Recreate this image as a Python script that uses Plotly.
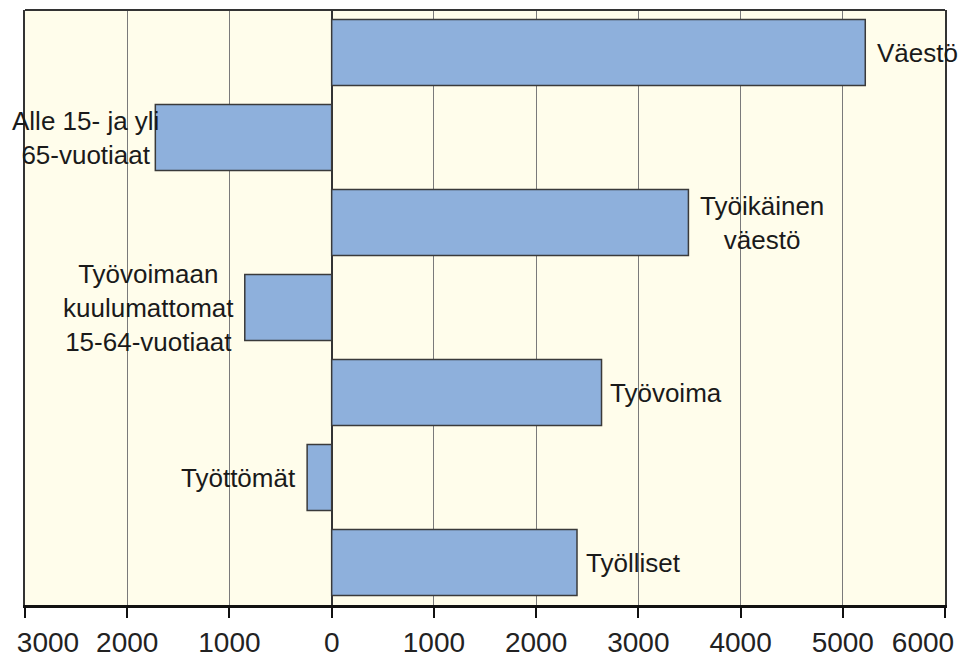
import plotly.graph_objects as go

# ---- data ----
categories = ["Väestö", "Alle 15- ja yli<br>65-vuotiaat", "Työikäinen<br>väestö",
              "Työvoimaan<br>kuulumattomat<br>15-64-vuotiaat", "Työvoima",
              "Työttömät", "Työlliset"]
values = [5220, -1725, 3490, -850, 2640, -240, 2400]
tick_vals = [-3000, -2000, -1000, 0, 1000, 2000, 3000, 4000, 5000, 6000]
tick_labels = ["3000", "2000", "1000", "0", "1000", "2000", "3000", "4000", "5000", "6000"]

FONT = "Liberation Sans, Arial, sans-serif"
X_RANGE = [tick_vals[0], tick_vals[-1]]
TICKFONT = dict(family=FONT, size=28, color="#222222")

fig = go.Figure()
fig.add_trace(go.Bar(
    x=values, y=categories, orientation="h",
    marker=dict(color="#8EB0DC", line=dict(color="#3a3a3a", width=1.5)),
    width=0.776, hoverinfo="skip",
))
# empty helper traces so the overlay label axes are drawn
for ax in ("x2", "x3"):
    fig.add_trace(go.Scatter(x=[], y=[], xaxis=ax, yaxis="y", mode="markers",
                             showlegend=False, hoverinfo="skip"))

label_shift = [10, 6, 10, -9, 6, -9, 7]
for cat, v, s in zip(categories, values, label_shift):
    fig.add_annotation(
        x=v, y=cat, text=cat, showarrow=False,
        xanchor="left" if v > 0 else "right", yanchor="middle",
        xshift=s, align="center",
        font=dict(family=FONT, size=26, color="#1a1a1a"),
    )

# top frame line
fig.add_shape(type="line", xref="paper", yref="paper", x0=0, x1=1, y0=1, y1=1,
              line=dict(color="#333333", width=2))

# main axis: inner labels; edge labels on overlay axes nudged inward
inner_text = [""] + tick_labels[1:-1] + [""]

edge_axis = dict(
    overlaying="x", side="bottom", anchor="y", range=X_RANGE,
    ticks="outside", ticklen=10, tickwidth=0, tickcolor="rgba(0,0,0,0)",
    showgrid=False, zeroline=False, showline=False,
    tickfont=TICKFONT, ticklabeloverflow="allow", ticklabelstandoff=2,
    automargin=False, fixedrange=True,
)

fig.update_layout(
    width=964, height=660,
    margin=dict(l=25, r=19, t=10, b=55),
    paper_bgcolor="white", plot_bgcolor="#FFFDEB",
    showlegend=False,
    xaxis=dict(
        range=X_RANGE, tickvals=tick_vals, ticktext=inner_text,
        showgrid=True, gridcolor="#7a7a7a", gridwidth=1,
        zeroline=True, zerolinecolor="#333333", zerolinewidth=1.5,
        showline=True, linecolor="#111111", linewidth=3,
        ticks="outside", ticklen=10, tickwidth=2, tickcolor="#111111",
        tickfont=TICKFONT,
        automargin=False, fixedrange=True,
    ),
    xaxis2=dict(edge_axis, tickvals=[tick_vals[0]], ticktext=[tick_labels[0]],
                ticklabelshift=23),
    xaxis3=dict(edge_axis, tickvals=[tick_vals[-1]], ticktext=[tick_labels[-1]],
                ticklabelshift=-22),
    yaxis=dict(
        autorange="reversed", showticklabels=False, showgrid=False,
        showline=True, linecolor="#333333", linewidth=2, mirror=True,
        ticks="", automargin=False, fixedrange=True,
    ),
)

fig.write_html(
    "out.html",
    config={"displayModeBar": False},
    post_script="document.body.style.margin='0';document.body.style.overflow='hidden';",
)
